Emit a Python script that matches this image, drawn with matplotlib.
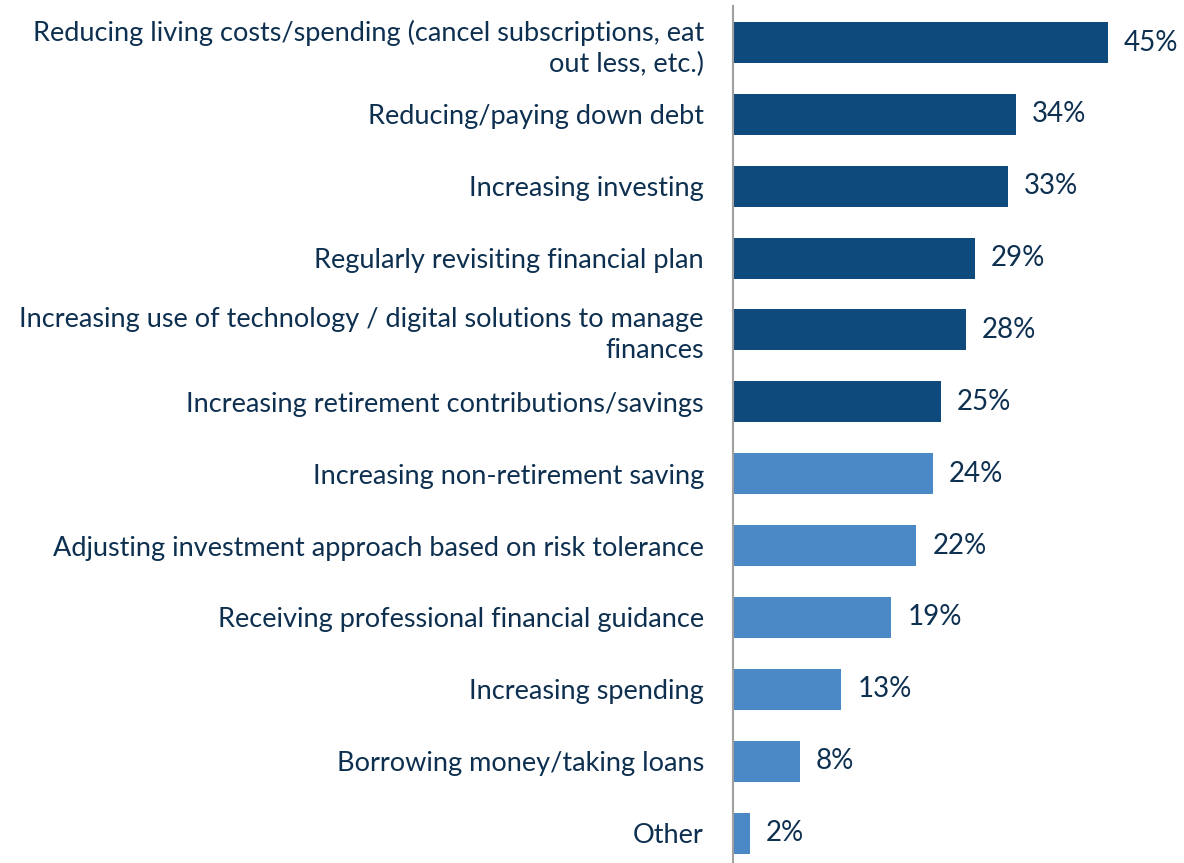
import matplotlib
matplotlib.use("Agg")
import matplotlib.pyplot as plt

categories = [
    "Reducing living costs/spending (cancel subscriptions, eat\nout less, etc.)",
    "Reducing/paying down debt",
    "Increasing investing",
    "Regularly revisiting financial plan",
    "Increasing use of technology / digital solutions to manage\nfinances",
    "Increasing retirement contributions/savings",
    "Increasing non-retirement saving",
    "Adjusting investment approach based on risk tolerance",
    "Receiving professional financial guidance",
    "Increasing spending",
    "Borrowing money/taking loans",
    "Other",
]
values = [45, 34, 33, 29, 28, 25, 24, 22, 19, 13, 8, 2]
highlight = [True] * 6 + [False] * 6

DARK = "#0E4A7B"
LIGHT = "#4A89C5"
TEXT = "#0E3050"

plt.rcParams["font.family"] = ["Lato", "DejaVu Sans"]

fig = plt.figure(figsize=(11.84, 8.63), dpi=100)
ax = fig.add_axes([733 / 1184, 0, 451 / 1184, 857 / 863])

ypos = list(range(len(values)))
colors = [DARK if h else LIGHT for h in highlight]
ax.barh(ypos, values, height=0.57, color=colors)

ax.set_xlim(0, 451 / 8.33)
ax.set_ylim(11.417, -0.508)

for y, v in zip(ypos, values):
    ax.text(v + 16 / 8.33, y, f"{v}%", va="center", ha="left",
            fontsize=20, color=TEXT)

ax.set_yticks(ypos)
ax.set_yticklabels(categories, fontsize=19.5, color=TEXT, linespacing=1.3)
ax.tick_params(axis="y", length=0, pad=21)
ax.set_xticks([])

for s in ["top", "right", "bottom"]:
    ax.spines[s].set_visible(False)
ax.spines["left"].set_color("#A0A0A0")
ax.spines["left"].set_linewidth(1.5)

fig.savefig("out.png", dpi=100)
